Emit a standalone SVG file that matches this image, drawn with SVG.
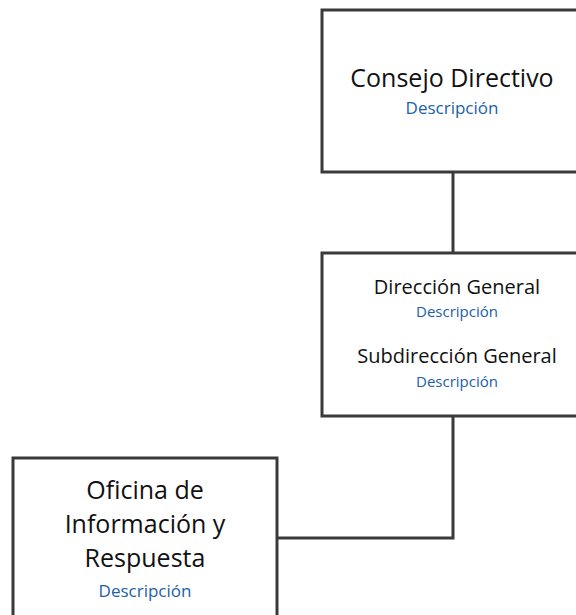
<svg xmlns="http://www.w3.org/2000/svg" width="576" height="615" viewBox="0 0 576 615">
<style>
.box{fill:#fff;stroke:#3a3a3a;stroke-width:3}
.conn{fill:none;stroke:#3a3a3a;stroke-width:3}
.t{font-family:"Open Sans","Noto Sans",sans-serif;fill:#111;text-anchor:middle}
.d{font-family:"Open Sans","Noto Sans",sans-serif;fill:#2060a8;text-anchor:middle}
</style>
<rect width="576" height="615" fill="#fff"/>
<g id="connectors">
<line class="conn" x1="453" y1="172" x2="453" y2="253"/>
<polyline class="conn" points="453,416 453,538 277,538"/>
</g>
<g id="consejo">
<rect class="box" x="322" y="10" width="270" height="162"/>
<text class="t" x="452" y="87" font-size="25">Consejo Directivo</text>
<text class="d" x="452" y="114" font-size="17">Descripción</text>
</g>
<g id="direccion">
<rect class="box" x="322" y="253" width="270" height="163"/>
<text class="t" x="457" y="294" font-size="20">Dirección General</text>
<text class="d" x="457" y="317" font-size="15">Descripción</text>
<text class="t" x="457" y="363" font-size="20">Subdirección General</text>
<text class="d" x="457" y="387" font-size="15">Descripción</text>
</g>
<g id="oficina">
<rect class="box" x="13" y="458" width="264" height="170"/>
<text class="t" x="145" y="499" font-size="25">Oficina de</text>
<text class="t" x="145" y="533" font-size="25">Información y</text>
<text class="t" x="145" y="567" font-size="25">Respuesta</text>
<text class="d" x="145" y="597" font-size="17">Descripción</text>
</g>
</svg>
